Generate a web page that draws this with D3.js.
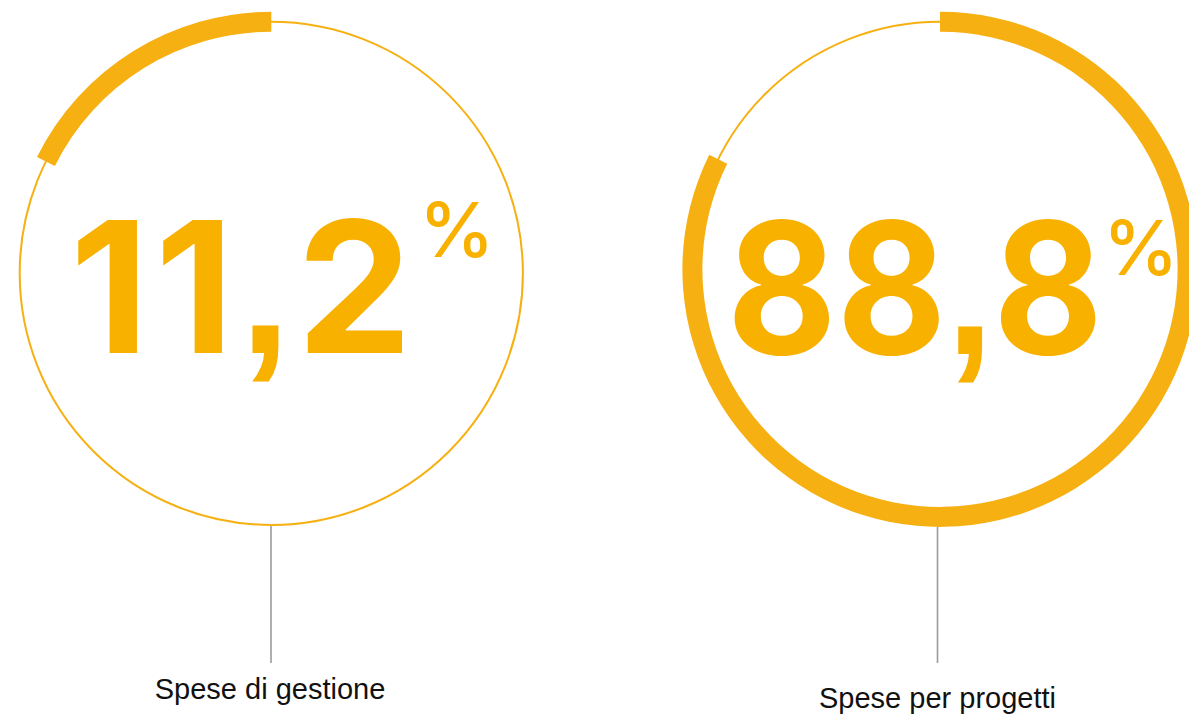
<!DOCTYPE html>
<html lang="it">
<head>
<meta charset="utf-8">
<title>Ripartizione delle spese</title>
<script src="https://cdn.jsdelivr.net/npm/d3@7"></script>
<style>
  html, body { margin: 0; padding: 0; background: #ffffff; }
  svg { display: block; }
</style>
</head>
<body>
<svg id="chart" width="1189" height="718"></svg>
<script>
// Expense categories and their share of the total (percent)
const categories = ["Spese di gestione", "Spese per progetti"];
const shares = [11.2, 88.8];

// Ring layout: centre, radius, sweep direction, value text and label placement
const rings = [
  { cx: 271.3, cy: 273.3, r: 251.6, dir: -1, numX: 70, numLen: 342, numY: 353, pctX: 419, pctY: 257, leaderX: 271, labelX: 270, labelY: 699 },
  { cx: 940.0, cy: 269.3, r: 247.6, dir: 1, numX: 727, numLen: 376, numY: 354, pctX: 1103, pctY: 275, leaderX: 937.5, labelX: 937.5, labelY: 708 }
];

const ringColor = "#f6b012";
const numberColor = "#f9b100";
const band = 20;
const numberFont = "Inter, 'Helvetica Neue', Helvetica, Arial, sans-serif";
const commaFont = "'Liberation Sans', Helvetica, Arial, sans-serif";
const labelFont = "'Liberation Sans', Helvetica, Arial, sans-serif";

// Share -> sweep angle of the highlighted band
const angle = d3.scaleLinear()
  .domain([0, 100])
  .range([Math.PI / 6, 2 * Math.PI - Math.PI / 6]);

const itFormat = d3.formatLocale({
  decimal: ",", thousands: ".", grouping: [3], currency: ["", " €"]
}).format(".1f");

const svg = d3.select("#chart");

const groups = svg.selectAll("g.ring")
  .data(shares.map((v, i) => ({ value: v, label: categories[i], ...rings[i] })))
  .join("g")
  .attr("class", "ring");

// thin full circle
groups.append("circle")
  .attr("cx", d => d.cx)
  .attr("cy", d => d.cy)
  .attr("r", d => d.r)
  .attr("fill", "none")
  .attr("stroke", ringColor)
  .attr("stroke-width", 2);

// thick band for the share
const arcGen = d3.arc()
  .innerRadius(d => d.r - band / 2)
  .outerRadius(d => d.r + band / 2)
  .startAngle(d => d.dir < 0 ? -angle(d.value) : 0)
  .endAngle(d => d.dir < 0 ? 0 : angle(d.value));

groups.append("path")
  .attr("transform", d => `translate(${d.cx},${d.cy})`)
  .attr("d", arcGen)
  .attr("fill", ringColor);

// big value (decimal comma set in a grotesque with a square comma)
const numbers = groups.append("text")
  .attr("x", d => d.numX)
  .attr("y", d => d.numY)
  .attr("font-family", numberFont)
  .attr("font-weight", 700)
  .attr("font-size", 183)
  .attr("fill", numberColor);

numbers.selectAll("tspan")
  .data(d => itFormat(d.value).split(""))
  .join("tspan")
  .attr("font-family", c => c === "," ? commaFont : null)
  .text(c => c);

// fit each value to its width: open the tracking when short,
// condense the glyphs (never overlap them) when long
numbers.each(function(d) {
  const natural = this.getComputedTextLength();
  d3.select(this)
    .attr("textLength", d.numLen)
    .attr("lengthAdjust", natural > d.numLen ? "spacingAndGlyphs" : "spacing");
});

// percent sign
groups.append("text")
  .attr("x", d => d.pctX)
  .attr("y", d => d.pctY)
  .attr("font-family", numberFont)
  .attr("font-weight", 500)
  .attr("font-size", 76)
  .attr("fill", numberColor)
  .text("%");

// leader line
groups.append("line")
  .attr("x1", d => d.leaderX)
  .attr("x2", d => d.leaderX)
  .attr("y1", d => d.cy + d.r + (d.dir > 0 ? band / 2 : 1))
  .attr("y2", 663)
  .attr("stroke", "#9b9b9b")
  .attr("stroke-width", 1.6);

// category label
groups.append("text")
  .attr("x", d => d.labelX)
  .attr("y", d => d.labelY)
  .attr("text-anchor", "middle")
  .attr("font-family", labelFont)
  .attr("font-size", 29)
  .attr("fill", "#111111")
  .text(d => d.label);
</script>
</body>
</html>
